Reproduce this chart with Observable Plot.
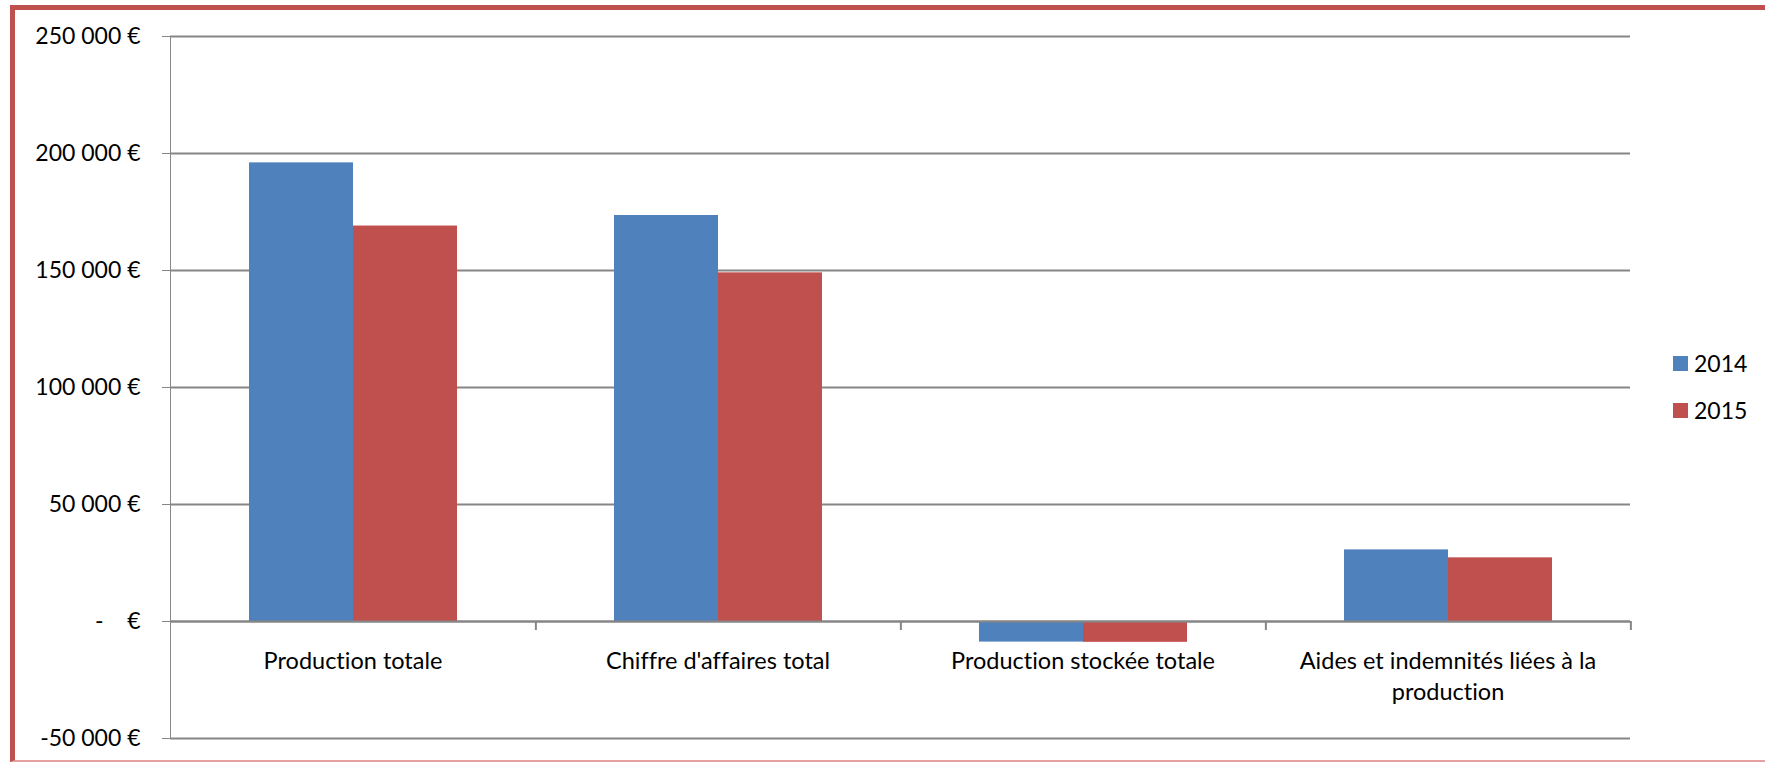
<!DOCTYPE html>
<html>
<head>
<meta charset="utf-8">
<script src="https://cdn.jsdelivr.net/npm/d3@7"></script>
<script src="https://cdn.jsdelivr.net/npm/@observablehq/plot@0.6"></script>
<style>
  html, body { margin: 0; padding: 0; background: #fff; }
  #wrap { position: relative; width: 1765px; height: 765px; overflow: hidden; background: #fff; }
  #chart svg text { fill: #000; font-variant-ligatures: none; }
  #border { position: absolute; left: 10px; top: 5px; width: 1800px; height: 757px;
            border-left: 5px solid #C0504D; border-top: 5px solid #C0504D; border-bottom: 2px solid #E3A09E;
            pointer-events: none; box-sizing: border-box; }
  #legend { position: absolute; left: 1673px; top: 346px; font-family: Lato, "Liberation Sans", sans-serif; font-size: 23px; color: #000; }
  #legend .row { display: flex; align-items: center; height: 34px; margin-bottom: 13px; }
  #legend .sw { width: 15px; height: 15px; margin-right: 6px; }
</style>
</head>
<body>
<div id="wrap">
  <div id="chart"></div>
  <div id="legend"></div>
  <div id="border"></div>
</div>
<script>
const categories = ["Production totale", "Chiffre d'affaires total", "Production stockée totale", "Aides et indemnités liées à la production"];
const tickLabels = ["Production totale", "Chiffre d'affaires total", "Production stockée totale", "Aides et indemnités liées à la\nproduction"];
const years = ["2014", "2015"];
const values2014 = [196000, 173500, -8800, 30600];
const values2015 = [169000, 149000, -8900, 27200];
const yTicks = [-50000, 0, 50000, 100000, 150000, 200000, 250000];
const colors = ["#4F81BD", "#C0504D"];

const rows = categories.flatMap((c, i) => [
  {category: c, year: years[0], value: values2014[i]},
  {category: c, year: years[1], value: values2015[i]}
]);
const labelRows = categories.map((c, i) => ({category: c, label: tickLabels[i]}));

const loc = d3.formatLocale({decimal: ",", thousands: "\u00a0", grouping: [3], currency: ["", "\u00a0€"], minus: "-"});
const fmtNum = loc.format(",d");
const fmt = v => v === 0 ? "-\u00a0\u00a0\u00a0\u00a0€" : fmtNum(v) + "\u00a0€";

const W = 1765, H = 765, mL = 168, mR = 134, mT = 36, mB = 27;
const step = (W - mL - mR) / categories.length;

const chart = Plot.plot({
  width: W, height: H,
  marginLeft: mL, marginRight: mR, marginTop: mT, marginBottom: mB,
  style: {fontFamily: "Lato, 'Liberation Sans', sans-serif", fontSize: "23px", color: "#868686", background: "transparent", overflow: "visible"},
  fx: {domain: categories, padding: 0, axis: null, label: null},
  x: {domain: years, paddingInner: 0, paddingOuter: 0.75, axis: null, label: null},
  y: {domain: [-50000, 250000], ticks: yTicks, tickFormat: fmt, tickSize: 8, tickPadding: 22, label: null, line: true},
  color: {domain: years, range: colors},
  marks: [
    Plot.ruleY(yTicks, {stroke: "#868686", strokeWidth: 2}),
    Plot.barY(rows, {fx: "category", x: "year", y: "value", fill: "year"}),
    Plot.ruleY([0], {stroke: "#868686", strokeWidth: 2}),
    Plot.ruleX([{}], {x: null, y1: () => 0, y2: () => 0, dx: step / 2, insetBottom: -9, stroke: "#868686", strokeWidth: 2}),
    Plot.text(labelRows, {fx: "category", y: () => 0, text: "label", dy: 25, lineAnchor: "top", lineHeight: 1.34, fontSize: 23.5, fill: "#000"})
  ]
});
document.getElementById("chart").appendChild(chart);

const legend = document.getElementById("legend");
years.forEach((y, i) => {
  const row = document.createElement("div");
  row.className = "row";
  const sw = document.createElement("span");
  sw.className = "sw";
  sw.style.background = colors[i];
  const t = document.createElement("span");
  t.textContent = y;
  row.appendChild(sw); row.appendChild(t);
  legend.appendChild(row);
});
</script>
</body>
</html>
